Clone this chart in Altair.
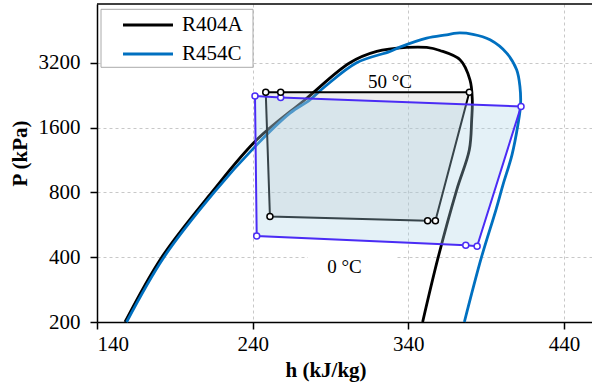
import altair as alt
import pandas as pd

# Saturation domes: enthalpy (kJ/kg) and pressure (kPa), traced up the
# liquid side, over the top and down the vapour side.
r404a_h = [158.0, 181.6, 213.7, 242.6, 273.6, 302.5, 319.7, 338.9,
           351.8, 360.3, 373.2, 379.6, 381.1, 380.7, 379.2, 371.1,
           359.2, 349.2]
r404a_p = [200, 400, 800, 1403, 2154, 3200, 3612, 3770,
           3770, 3650, 3304, 2667, 2154, 1738, 1261, 822,
           400, 200]

r454c_h = [159.0, 183.0, 215.2, 242.6, 264.0, 276.8, 286.5, 306.8, 328.2,
           334.6, 351.8, 364.6, 371.1, 381.5, 392.5, 403.2, 409.6, 411.7,
           412.1, 410.4, 406.6, 400.8, 396.3, 387.0, 376.0]
r454c_p = [200, 400, 800, 1330, 1867, 2154, 2482, 3200, 3612,
           3785, 4167, 4318, 4398, 4341, 4094, 3550, 2969, 2482,
           2041, 1648, 1195, 867, 664, 400, 200]

# Refrigeration cycle state points (condensing at 50 °C, evaporating at 0 °C)
r404a_cycle_h = [248.4, 251.1, 352.4, 357.4, 379.2, 258.0]
r404a_cycle_p = [2333, 618, 590, 590, 2333, 2333]
r454c_cycle_h = [241.5, 242.6, 376.9, 384.2, 412.4, 258.0]
r454c_cycle_p = [2241, 502, 454, 450, 2004, 2205]

# Temperature annotations
label_text = ["50 °C", "0 °C"]
label_h = [328.2, 299.0]
label_p = [2619, 362]
# white patch behind the 0 °C annotation
patch_h = [275.5, 332.7]
patch_p = [310, 423]

fluids = ["R404A", "R454C"]
fluid_colors = ["#000000", "#0070C0"]
R454C_CYCLE = "#4A2CF5"

FONT = "Liberation Serif"
W, H = 495, 318

dome = pd.DataFrame({
    "h": r404a_h + r454c_h,
    "p": r404a_p + r454c_p,
    "fluid": ["R404A"] * len(r404a_h) + ["R454C"] * len(r454c_h),
    "i": list(range(len(r404a_h))) + list(range(len(r454c_h))),
})


def closed(hs, ps):
    n = len(hs)
    return pd.DataFrame({"h": hs + hs[:1], "p": ps + ps[:1], "i": list(range(n + 1))})


c404 = closed(r404a_cycle_h, r404a_cycle_p)
c454 = closed(r454c_cycle_h, r454c_cycle_p)
pts404 = pd.DataFrame({"h": r404a_cycle_h, "p": r404a_cycle_p})
pts454 = pd.DataFrame({"h": r454c_cycle_h, "p": r454c_cycle_p})
labels = pd.DataFrame({"h": label_h, "p": label_p, "t": label_text})
patch = pd.DataFrame({"h0": [patch_h[0]], "h1": [patch_h[1]],
                      "p0": [patch_p[0]], "p1": [patch_p[1]]})
one = pd.DataFrame({"a": [0]})

xs = alt.Scale(domain=[140, 458], nice=False, zero=False)
ys = alt.Scale(type="log", domain=[200, 6000], nice=False)

x_axis = alt.Axis(values=[140, 240, 340, 440], title="h (kJ/kg)", format="d",
                  titleX=228.5, titleY=54, titleBaseline="alphabetic",
                  labelPadding=4)
y_axis = alt.Axis(values=[200, 400, 800, 1600, 3200], title="P (kPa)", format="d",
                  titleX=-77, titleY=149, titleBaseline="middle",
                  labelPadding=10)

X = alt.X("h:Q", scale=xs, axis=x_axis)
Y = alt.Y("p:Q", scale=ys, axis=y_axis)
Xn = alt.X("h:Q", scale=xs)
Yn = alt.Y("p:Q", scale=ys)

bg = alt.Chart(patch).mark_rect(color="white").encode(
    x=alt.X("h0:Q", scale=xs), x2="h1:Q",
    y=alt.Y("p0:Q", scale=ys), y2="p1:Q")

legend_box = alt.Chart(one).mark_rect(
    fill="white", stroke="#AAAAAA", strokeWidth=1).encode(
    x=alt.value(4), x2=alt.value(156), y=alt.value(5.3), y2=alt.value(63.3))

domes = alt.Chart(dome).mark_line(strokeWidth=2.8, interpolate="catmull-rom").encode(
    x=X, y=Y, order="i:Q",
    color=alt.Color("fluid:N",
                    scale=alt.Scale(domain=fluids, range=fluid_colors),
                    legend=alt.Legend(
                        title=None, orient="none", legendX=4, legendY=5,
                        symbolType="M-2.38,0L2.38,0", symbolSize=441,
                        symbolStrokeWidth=3, padding=4, symbolOffset=31,
                        labelOffset=22, rowPadding=7,
                        labelFont=FONT, labelFontSize=21, labelColor="black")))

fill404 = alt.Chart(c404).mark_line(
    fill="#B0B0B0", fillOpacity=0.22, strokeOpacity=0).encode(x=Xn, y=Yn, order="i:Q")
line404 = alt.Chart(c404).mark_line(color="black", strokeWidth=2).encode(
    x=Xn, y=Yn, order="i:Q")
fill454 = alt.Chart(c454).mark_line(
    fill="#ABD3E6", fillOpacity=0.32, strokeOpacity=0).encode(x=Xn, y=Yn, order="i:Q")
line454 = alt.Chart(c454).mark_line(color=R454C_CYCLE, strokeWidth=2).encode(
    x=Xn, y=Yn, order="i:Q")

dots454 = alt.Chart(pts454).mark_point(
    shape="circle", filled=False, fill="white", fillOpacity=1,
    stroke=R454C_CYCLE, strokeWidth=1.5, size=36, opacity=1).encode(x=Xn, y=Yn)
dots404 = alt.Chart(pts404).mark_point(
    shape="circle", filled=False, fill="white", fillOpacity=1,
    stroke="black", strokeWidth=1.5, size=36, opacity=1).encode(x=Xn, y=Yn)

texts = alt.Chart(labels).mark_text(
    font=FONT, fontSize=19, color="black", align="center", baseline="middle").encode(
    x=Xn, y=Yn, text="t:N")

top_border = alt.Chart(one).mark_rule(color="black", strokeWidth=1.5).encode(
    x=alt.value(0), x2=alt.value(W), y=alt.value(0))

chart = alt.layer(
    bg, legend_box, domes, fill404, line404, fill454, line454,
    dots454, dots404, texts, top_border
).properties(
    width=W, height=H,
    padding={"left": 97, "top": 4, "right": 0, "bottom": 63},
    autosize=alt.AutoSizeParams(type="none"),
).configure_view(
    stroke=None
).configure_axis(
    labelFont=FONT, labelFontSize=21, labelColor="black",
    titleFont=FONT, titleFontSize=21, titleFontWeight="bold", titleColor="black",
    domainColor="black", domainWidth=1.5,
    tickColor="black", tickWidth=1.5, tickSize=7,
    gridColor="#C8C8C8", gridDash=[3, 3], gridWidth=1,
)

chart.save("out.html", embed_options={"renderer": "svg", "actions": False})
